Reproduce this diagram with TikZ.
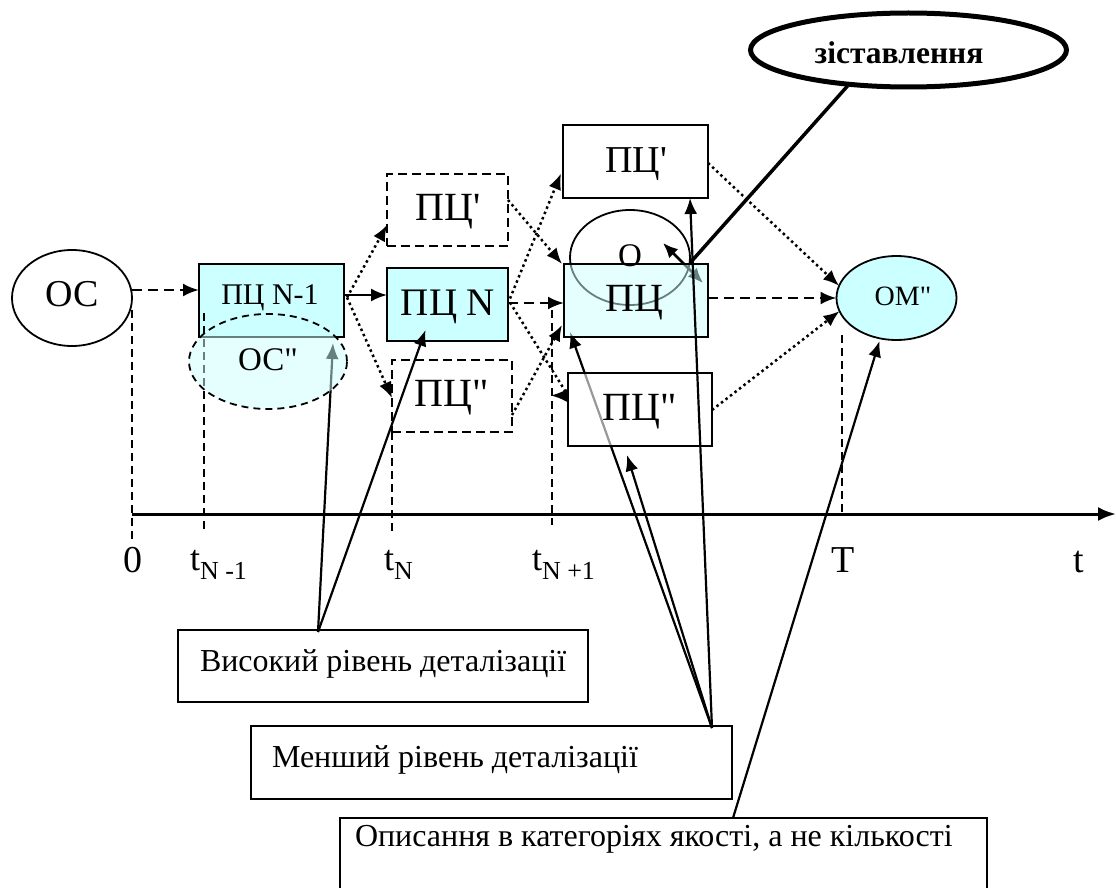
\documentclass[tikz,border=0pt]{standalone}
\usepackage{fontspec}
\setmainfont{Liberation Serif}
\usetikzlibrary{shapes.geometric, arrows.meta, calc}
\definecolor{aqua}{HTML}{CCFFFF}
\pgfdeclarelayer{under}
\pgfsetlayers{under,main}
\newcommand\fsz[1]{\fontsize{#1}{#1}\selectfont}
\newcommand\sq{\textquotesingle}
\newcommand\dq{\textquotedbl}

\begin{document}
\begin{tikzpicture}[x=1pt,y=-1pt,
  every node/.style={inner sep=0pt, outer sep=0pt},
  frame/.style={draw, line width=1.8pt, rectangle},
  dframe/.style={frame, dash pattern=on 9pt off 5pt},
  oval/.style={draw, line width=1.8pt, ellipse},
  sz/.style 2 args={minimum width=#1, minimum height=#2},
  lbl/.style={anchor=base, font=\fsz{38}},
  ltxt/.style={anchor=base west, font=\fsz{32}},
  tipA/.style={-{Latex[length=16pt,width=13pt]}},
  plainlink/.style={tipA, line width=2.2pt},
  dotlink/.style={tipA, line width=2.5pt, dash pattern=on 2.5pt off 3.2pt},
  dashlink/.style={tipA, line width=2.5pt, dash pattern=on 10pt off 6pt},
  tickline/.style={line width=1.5pt, dash pattern=on 8pt off 5pt},
]
\useasboundingbox (0,0) rectangle (1116,888);

% main chain of states
\node[oval, sz={120pt}{96pt}] (oc) at (72,298) {};
\node[frame, fill=aqua, sz={145pt}{73pt}] (pn1) at (271.5,300.5) {};
\node[dframe, sz={121pt}{72pt}] (pt1) at (447.5,210) {};
\node[frame, fill=aqua, sz={121pt}{73pt}] (pn) at (447.5,304.5) {};
\node[dframe, sz={120pt}{72pt}] (pp1) at (452,396) {};
\node[frame, sz={145pt}{73pt}] (pt2) at (635.5,161.5) {};
\node[oval, fill=aqua, sz={120pt}{84pt}] (om) at (896.5,298) {};
\node[draw, ellipse, line width=5pt, sz={316pt}{74pt}] (zist) at (908.5,50) {};

% explanatory boxes
\node[frame, sz={410pt}{72pt}] (vys) at (383,666) {};
\node[frame, sz={481pt}{73pt}] (men) at (491.5,762.5) {};
\node[frame, sz={647pt}{80pt}] (opys) at (663.5,858) {};

% time marks and axis
\draw[tickline] (132,310) -- (132,540);
\draw[tickline] (204,313) -- (204,530);
\draw[tickline] (pp1.south west) -- (392,532);
\draw[tickline] (552,310) -- (552,525);
\draw[tickline] (842,335) -- (842,514);
\coordinate (ax0) at (132,514);
\coordinate (ax1) at (1116,514);
\draw[line width=3pt, -{Latex[length=18pt,width=14pt]}] (ax0) -- (ax1);

% comparison ellipse and the current state on top of it
\node[oval, sz={120pt}{95pt}] (o) at (630,257.5) {};
\draw[line width=2.8pt, {Latex[length=15pt,width=13pt]}-{Latex[length=15pt,width=13pt]}]
  ($(o.center)+(33,-14.5)$) -- ($(o.center)+(73,25.5)$);
\node[frame, fill=aqua, fill opacity=0.5, sz={144pt}{73pt}] (pc) at (636,300.5) {};
\node[frame, fill=white, fill opacity=0.6, sz={144pt}{73pt}] (pp2) at (640,409.5) {};
\node[oval, dash pattern=on 7pt off 5pt, fill=aqua, fill opacity=0.5, sz={158pt}{95pt}] (ocpp) at (268,361.5) {};

% callout lines that sit beneath the translucent fills
\begin{pgfonlayer}{under}
  \draw[plainlink] ($(vys.north)+(-65,2)$) -- ($(ocpp.center)+(65,-18.5)$);
  \draw[plainlink] ($(men.north east)+(-20,2)$) -- ($(pc.south west)+(6,-5)$);
\end{pgfonlayer}

% transitions
\draw[dashlink] ($(oc.east)+(0,-8)$) -- ($(pn1.west)+(0,-10.5)$);
\draw[plainlink] ($(pn1.east)+(0,-5.5)$) -- ($(pn.west)+(0,-9.5)$);
\draw[dotlink] ($(pn1.east)+(3,-3)$) -- ($(pt1.west)+(0,15)$);
\draw[dotlink] ($(pn1.east)+(3,-3)$) -- ($(pp1.west)+(0,2)$);
\draw[dashlink] ($(pn.east)+(0,-1.5)$) -- ($(pc.west)+(0,2.5)$);
\draw[dotlink] ($(pn.east)+(2,-6)$) -- ($(pt2.west)+(-2,12)$);
\draw[dotlink, -] ($(pn.east)+(2,-2)$) -- ($(pp2.west)+(0,-14)$);
\draw[tipA, line width=2pt] ($(pp2.west)+(0,-14)$) -- ++(-17,0);
\draw[dotlink] ($(pt1.east)+(0,-10)$) -- ($(pc.north west)+(-2,0)$);
\draw[dotlink] ($(pp1.east)+(0,19)$) -- ($(pc.south west)+(-2,-12)$);
\draw[dotlink] ($(pt2.east)+(0,1.5)$) -- (om.168);
\draw[dashlink] ($(pc.east)+(0,-2.5)$) -- (om.west);
\draw[dotlink] ($(pp2.east)+(0,0.5)$) -- (om.193);

% comparison pointer
\draw[line width=3.5pt] ($(zist.center)+(-61,36)$) -- ($(o.center)+(60,5.5)$);

% callout lines
\draw[plainlink] ($(vys.north)+(-65,2)$) -- ($(pn.south)+(-22,-11)$);
\draw[plainlink] ($(men.north east)+(-20,2)$) -- ($(pt2.south)+(54.5,0)$);
\draw[plainlink] ($(men.north east)+(-20,2)$) -- ($(pp2.south)+(-13,9)$);
\draw[plainlink] ($(opys.north)+(69.5,0)$) -- ($(om.south)+(-17,1)$);

% texts
\node[lbl] at (72,306) {ОС};
\node[lbl, font=\fsz{30}] at (270,304) {ПЦ N-1};
\node[lbl, font=\fsz{33}] at (268,370) {ОС\dq};
\node[lbl, font=\fsz{40}] at (448,220) {ПЦ\sq};
\node[lbl, font=\fsz{39}] at (448,315) {ПЦ N};
\node[lbl, font=\fsz{40}] at (452,406) {ПЦ\dq};
\node[lbl] at (636,172) {ПЦ\sq};
\node[lbl, font=\fsz{33}] at (630,266) {О};
\node[lbl, font=\fsz{40}] at (634,311) {ПЦ};
\node[lbl, font=\fsz{40}] at (640,420) {ПЦ\dq};
\node[lbl, font=\fsz{28}] at (903,305) {ОМ\dq};
\node[lbl, font=\bfseries\fsz{31.5}] at (899,64) {зіставлення};

\node[ltxt] at (200,671) {Високий рівень деталізації};
\node[ltxt] at (272,767) {Менший рівень деталізації};
\node[ltxt] at (355,846) {Описання в категоріях якості, а не кількості};

\node[lbl] at (133,572) {0};
\node[anchor=base west, font=\fsz{36}] at (190,570) {t\raisebox{-9pt}{\fsz{26}N -1}};
\node[anchor=base west, font=\fsz{36}] at (384,570) {t\raisebox{-9pt}{\fsz{26}N}};
\node[anchor=base west, font=\fsz{36}] at (532,570) {t\raisebox{-9pt}{\fsz{26}N +1}};
\node[lbl] at (843,572) {T};
\node[lbl] at (1079,572) {t};
\end{tikzpicture}
\end{document}
